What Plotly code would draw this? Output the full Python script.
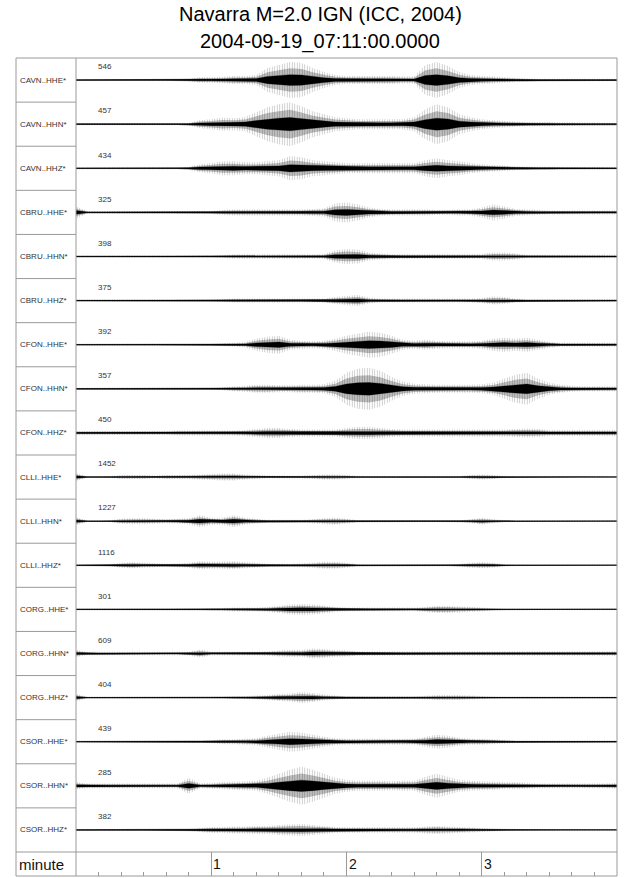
import numpy as np
import plotly.graph_objects as go

# ---------------- data ----------------
times_s = [0, 5, 10, 15, 20, 25, 30, 35, 40, 45, 50, 55, 60, 65, 70, 75, 80, 85, 90, 95,
           100, 105, 110, 115, 120, 125, 130, 135, 140, 145, 150, 155, 160, 165, 170, 175,
           180, 185, 190, 195, 200, 205, 210, 215, 220, 225, 230, 235, 240]

station_labels = ["CAVN..HHE*", "CAVN..HHN*", "CAVN..HHZ*",
                  "CBRU..HHE*", "CBRU..HHN*", "CBRU..HHZ*",
                  "CFON..HHE*", "CFON..HHN*", "CFON..HHZ*",
                  "CLLI..HHE*", "CLLI..HHN*", "CLLI..HHZ*",
                  "CORG..HHE*", "CORG..HHN*", "CORG..HHZ*",
                  "CSOR..HHE*", "CSOR..HHN*", "CSOR..HHZ*"]

amplitude_labels = ["546", "457", "434", "325", "398", "375", "392", "357", "450",
                    "1452", "1227", "1116", "301", "609", "404", "439", "285", "382"]

# envelope half-amplitudes (pixels) read every 5 s
cavn_hhe = [1, 1, 1, 1, 1, 1, 1, 1, 1, 1.2, 1.5,
            2.7, 2.7, 3.3, 4, 4, 5, 12, 15, 18, 17,
            12, 8, 5, 4, 4, 4, 4, 4, 3.5, 3.5,
            15, 18, 14, 8, 5, 4, 3.5, 2.7, 2, 1.7,
            1.3, 1.3, 1.3, 1.3, 1.3, 1.3, 1.3, 1.3]
cavn_hhn = [1.2, 1.2, 1.2, 1.2, 1.2, 1.2, 1.2, 1.2, 1.2, 1.2, 1.5,
            4, 5, 6.5, 6, 7, 12, 17, 20, 22, 18,
            13, 10, 7, 6, 5, 5, 5, 5, 5, 7,
            15, 20, 17, 10, 7, 5, 4, 3.3, 2.7, 2,
            2, 2, 1.8, 1.8, 1.6, 1.6, 1.5, 1.5]
cavn_hhz = [1, 1, 1, 1, 1, 1, 1, 1, 1, 1, 1.5,
            4, 5, 7, 7, 6, 6, 7, 8, 12, 11,
            8, 7, 6, 5, 5, 5, 5, 5, 5, 5,
            8, 10, 8, 7, 5, 4, 3.3, 2.7, 1.7, 1.7,
            1.5, 1.5, 1.3, 1.3, 1.3, 1.3, 1.3, 1.3]
cbru_hhe = [6, 1.3, 1.3, 1.3, 1.3, 1.3, 1.3, 1.3, 1.3, 1.3, 1.3,
            1.3, 1.5, 2.5, 3, 3, 3, 3, 3, 3, 3,
            3.5, 4, 9, 10, 8, 5, 3.5, 3, 3, 3,
            3, 2.5, 2.5, 3, 3, 5, 8, 6, 3.5, 3,
            2.5, 2, 2, 2, 2, 2, 2, 2]
cbru_hhn = [1, 1, 1, 1, 1, 1.3, 1, 1, 1, 1, 1,
            1, 1, 1.5, 2.3, 2.3, 2.3, 2.3, 2.3, 2.3, 2.3,
            2.3, 2.5, 6, 7.5, 7, 4, 3, 2.5, 2.5, 2.5,
            2.5, 2.5, 2.5, 2.5, 2.5, 2.5, 4, 4, 3, 1.7,
            1.7, 1.7, 1.7, 1.7, 1.7, 1.7, 1.7, 1.7]
cbru_hhz = [1, 1, 1, 1, 1, 1, 1, 1, 1, 1, 1,
            1, 1, 1.5, 2, 2, 2, 2, 2, 2, 2,
            2, 2, 3.5, 4.5, 5.5, 3, 2, 2, 2, 2,
            2, 2, 2, 2, 2, 2.5, 4, 3.5, 2, 1.3,
            1.3, 1.3, 1.3, 1.3, 1.3, 1.3, 1.3, 1.3]
cfon_hhe = [1, 1, 1, 1, 1, 1, 1, 1, 1, 1, 1,
            1, 1, 1.5, 2, 2.5, 6, 8, 9, 5, 4,
            3.5, 4, 6, 9, 11, 13, 12, 9, 5, 4,
            5, 4, 3.5, 3.5, 3.5, 4, 6, 7, 6, 7,
            5, 3, 2, 2, 2, 2, 2, 2]
cfon_hhn = [1, 1, 1, 1, 1, 1, 1, 1, 1, 1, 1,
            1, 1, 1.5, 2.5, 3, 4, 4, 3.5, 3.5, 4,
            4, 4.5, 8, 16, 20, 21, 18, 12, 7, 5,
            4.5, 4, 4, 4, 4, 4.5, 6, 10, 14, 16,
            10, 6, 4, 3, 2.5, 2.5, 2.5, 2.5]
cfon_hhz = [2, 2, 2, 2, 2, 2, 2, 2, 2, 2.5, 2.5,
            2.5, 2.5, 2.5, 2.5, 3, 4, 5, 5, 4, 3.5,
            3.5, 3.5, 3.5, 5, 6, 6, 5, 4, 3.5, 3.5,
            3.5, 3.5, 3.5, 3.5, 3.5, 3.5, 3.5, 3.5, 4, 4.5,
            4, 3, 3, 3, 3, 3, 3, 3]
clli_hhe = [4, 0.7, 0.7, 1, 2, 2, 2, 1.5, 2, 2, 2,
            2.5, 3, 3.5, 3.5, 2.5, 2, 1.5, 1.5, 1.5, 1.5,
            2, 2.5, 2.5, 2, 1.2, 1, 1, 1, 1, 1,
            1, 1, 1, 1, 2, 2.5, 2, 1.2, 0.8, 0.8,
            0.8, 0.8, 0.8, 0.8, 0.8, 0.8, 0.8, 0.8]
clli_hhn = [4, 0.8, 0.8, 1, 2.5, 3, 3, 2.5, 2, 2.5, 3,
            6, 3.5, 3.5, 6, 3.5, 2.5, 1.5, 1.5, 1.5, 1.5,
            2, 3, 3.5, 2.5, 1.2, 1, 1, 1, 1, 1,
            1, 1, 1, 1, 2, 3.5, 2, 1.2, 0.8, 0.8,
            0.8, 0.8, 0.8, 0.8, 0.8, 0.8, 0.8, 0.8]
clli_hhz = [1, 0.8, 0.8, 1, 2.5, 3, 2.5, 2, 1.5, 2, 2.5,
            4, 3.5, 3.5, 4, 3, 2.5, 1.5, 1.5, 1.5, 2,
            2.5, 3.5, 3.5, 2.5, 1.2, 1, 1, 1, 1, 1,
            1, 1, 1, 1.5, 2.5, 3, 2.5, 1.2, 0.8, 0.8,
            0.8, 0.8, 0.8, 0.8, 0.8, 0.8, 0.8, 0.8]
corg_hhe = [0.8, 0.8, 0.8, 0.8, 0.8, 0.8, 0.8, 0.8, 0.8, 0.8, 0.8,
            0.8, 1.2, 1.5, 2, 2, 2, 2.5, 3.5, 5, 5.5,
            5, 4, 2.5, 1.8, 1.8, 1.8, 1.8, 1.8, 1.8, 1.8,
            2.5, 3.5, 3.5, 3, 2.5, 2, 1.2, 0.8, 0.8, 0.8,
            0.8, 0.8, 0.8, 0.8, 0.8, 0.8, 0.8, 0.8]
corg_hhn = [3.5, 1.7, 1.7, 1.7, 1.7, 1.7, 1.7, 1.7, 1.7, 1.7, 2,
            4, 2, 2, 2, 2, 2, 2.5, 3, 3.5, 3.5,
            5, 4.5, 3.5, 3, 2.3, 2.3, 2.3, 2.3, 2.3, 2.3,
            2.3, 2.3, 2.3, 2.3, 2.3, 2.3, 2.3, 2.3, 2.3, 2.3,
            2.3, 2.3, 2.3, 2.3, 2.3, 2.3, 2.3, 2.5]
corg_hhz = [3.5, 0.8, 0.8, 0.8, 0.8, 0.8, 0.8, 0.8, 0.8, 0.8, 0.8,
            0.8, 0.8, 1, 1.3, 1.5, 2, 2.5, 3.5, 4, 5.5,
            4.5, 3, 2, 1.3, 1.3, 1.3, 1.3, 1.3, 1.3, 1.3,
            1.8, 2.5, 2.5, 2.5, 2, 1.5, 1, 0.8, 0.8, 0.8,
            0.8, 0.8, 0.8, 0.8, 0.8, 0.8, 0.8, 0.8]
csor_hhe = [1, 1, 1, 1, 1, 1, 1, 1, 1, 1, 1,
            1, 1.5, 2.5, 2.5, 3, 3.5, 6, 8, 10, 9,
            7, 5, 3.5, 3, 3, 3, 3, 3, 3, 3,
            5, 7, 6, 4, 3, 3, 2.5, 2, 1.3, 1.3,
            1.3, 1.3, 1.3, 1.3, 1.3, 1.3, 1.3, 1.3]
csor_hhn = [3.5, 2.3, 2.3, 2.3, 2.3, 2.3, 2.3, 2.3, 2.3, 2.3, 8,
            2.5, 3, 3.5, 4, 4.5, 5, 8, 12, 16, 19,
            16, 12, 8, 6, 5, 5, 5, 4.5, 5, 5,
            9, 12, 9, 6, 5, 4.5, 4, 3.5, 3.5, 3,
            2.3, 2.3, 2.3, 2.3, 2.3, 2.3, 2.3, 3]
csor_hhz = [1, 1, 1, 1, 1, 1, 1, 1, 1, 1, 1,
            2, 3, 3, 3.5, 3.5, 4, 4, 5, 5.5, 6,
            5, 4, 3, 2.7, 2.7, 2.7, 2.7, 2.7, 2.7, 2.7,
            3.5, 4, 3.5, 3, 2.5, 2, 1.5, 1, 1, 1,
            1, 1, 1, 1, 1, 1, 1, 1]

traces_px = [cavn_hhe, cavn_hhn, cavn_hhz, cbru_hhe, cbru_hhn, cbru_hhz,
             cfon_hhe, cfon_hhn, cfon_hhz, clli_hhe, clli_hhn, clli_hhz,
             corg_hhe, corg_hhn, corg_hhz, csor_hhe, csor_hhn, csor_hhz]

minute_ticks = [60, 120, 180]
minute_labels = ["1", "2", "3"]

# ---------------- layout geometry ----------------
W, H = 640, 878
TOP, ROWS_BOTTOM, BOTTOM = 58, 852, 876
LEFT, DIV, RIGHT = 16, 76, 617
NROW = len(traces_px)
ROW_PX = (ROWS_BOTTOM - TOP) / NROW
AXIS_ROWS = (BOTTOM - ROWS_BOTTOM) / ROW_PX

FONT = "Liberation Sans, Arial, Helvetica, sans-serif"
FRAME = "#9a9a9a"

def px(x):
    return x / W

def py(y):
    return (H - y) / H

fig = go.Figure()
t = np.array(times_s, dtype=float)
for i, amp in enumerate(traces_px):
    a = np.array(amp, dtype=float) / ROW_PX
    c = -(i + 0.5)
    xs = np.concatenate([t, t[::-1]])
    outer = np.concatenate([c + a, (c - a)[::-1]])
    mid = np.concatenate([c + 0.65 * a, (c - 0.65 * a)[::-1]])
    inner = np.concatenate([c + 0.3 * a, (c - 0.3 * a)[::-1]])
    fig.add_trace(go.Scatter(x=xs, y=outer, fill="toself", mode="none",
                             fillcolor="rgba(0,0,0,0)",
                             fillpattern=dict(shape="|", fgcolor="#808080", bgcolor="rgba(0,0,0,0)",
                                              size=2.5, solidity=0.3),
                             hoverinfo="skip", showlegend=False))
    fig.add_trace(go.Scatter(x=xs, y=mid, fill="toself", mode="none",
                             fillcolor="rgba(0,0,0,0)",
                             fillpattern=dict(shape="|", fgcolor="#000000", bgcolor="rgba(0,0,0,0)",
                                              size=2, solidity=0.5),
                             hoverinfo="skip", showlegend=False))
    fig.add_trace(go.Scatter(x=xs, y=inner, fill="toself", mode="lines",
                             line=dict(color="#000000", width=0.3),
                             fillcolor="#000000", hoverinfo="skip", showlegend=False))
    fig.add_trace(go.Scatter(x=t, y=np.full_like(t, c), mode="lines",
                             line=dict(color="#000000", width=0.8),
                             hoverinfo="skip", showlegend=False))

shapes = []
shapes.append(dict(type="rect", xref="paper", yref="paper", x0=px(LEFT), x1=px(RIGHT),
                   y0=py(BOTTOM), y1=py(TOP), line=dict(color=FRAME, width=1)))
shapes.append(dict(type="line", xref="paper", yref="paper", x0=px(DIV), x1=px(DIV),
                   y0=py(BOTTOM), y1=py(TOP), line=dict(color=FRAME, width=1)))
for i in range(1, NROW):
    shapes.append(dict(type="line", xref="paper", yref="y", x0=px(LEFT), x1=px(DIV),
                       y0=-i, y1=-i, line=dict(color=FRAME, width=1)))
shapes.append(dict(type="line", xref="paper", yref="y", x0=px(LEFT), x1=px(RIGHT),
                   y0=-NROW, y1=-NROW, line=dict(color=FRAME, width=1)))

annotations = []
for i, (lab, amp) in enumerate(zip(station_labels, amplitude_labels)):
    annotations.append(dict(xref="paper", yref="y", x=px(LEFT + 2), y=-(i + 0.5),
                            text=lab, showarrow=False, xanchor="left", yanchor="middle",
                            font=dict(family=FONT, size=8, color="#333333")))
    annotations.append(dict(xref="paper", yref="y", x=px(96), y=-(i + 0.2),
                            text=amp, showarrow=False, xanchor="left", yanchor="middle",
                            font=dict(family=FONT, size=8, color="#333333")))
for tv, tl in zip(minute_ticks, minute_labels):
    annotations.append(dict(xref="x", yref="y", x=tv, y=-(NROW + AXIS_ROWS / 2),
                            text=tl, showarrow=False, xanchor="left", yanchor="middle",
                            xshift=0, font=dict(family=FONT, size=14, color="#111111")))
annotations.append(dict(xref="paper", yref="y", x=px(LEFT + 1), y=-(NROW + AXIS_ROWS / 2),
                        text="minute", showarrow=False, xanchor="left", yanchor="middle",
                        font=dict(family=FONT, size=15, color="#111111")))
annotations.append(dict(xref="paper", yref="paper", x=0.5, y=py(14),
                        text="Navarra M=2.0 IGN (ICC, 2004)", showarrow=False,
                        xanchor="center", yanchor="middle",
                        font=dict(family=FONT, size=20, color="#000000")))
annotations.append(dict(xref="paper", yref="paper", x=0.5, y=py(42),
                        text="2004-09-19_07:11:00.0000", showarrow=False,
                        xanchor="center", yanchor="middle",
                        font=dict(family=FONT, size=20, color="#000000")))

fig.update_layout(
    width=W, height=H, margin=dict(l=0, r=0, t=0, b=0),
    paper_bgcolor="white", plot_bgcolor="white",
    shapes=shapes, annotations=annotations,
    xaxis=dict(domain=[px(DIV), px(RIGHT)], range=[0, 240], showgrid=False,
               zeroline=False, showline=False, tickmode="array", tickvals=minute_ticks,
               ticks="inside", ticklen=int(BOTTOM - ROWS_BOTTOM), tickcolor=FRAME, tickwidth=1,
               showticklabels=False, fixedrange=True,
               minor=dict(ticks="inside", dtick=10, tick0=0, ticklen=4,
                          tickcolor=FRAME, tickwidth=1, showgrid=False)),
    yaxis=dict(domain=[py(BOTTOM), py(TOP)], range=[-(NROW + AXIS_ROWS), 0],
               visible=False, fixedrange=True),
)

fig.write_html("out.html", config={"displayModeBar": False},
               post_script="document.body.style.margin='0px';")
